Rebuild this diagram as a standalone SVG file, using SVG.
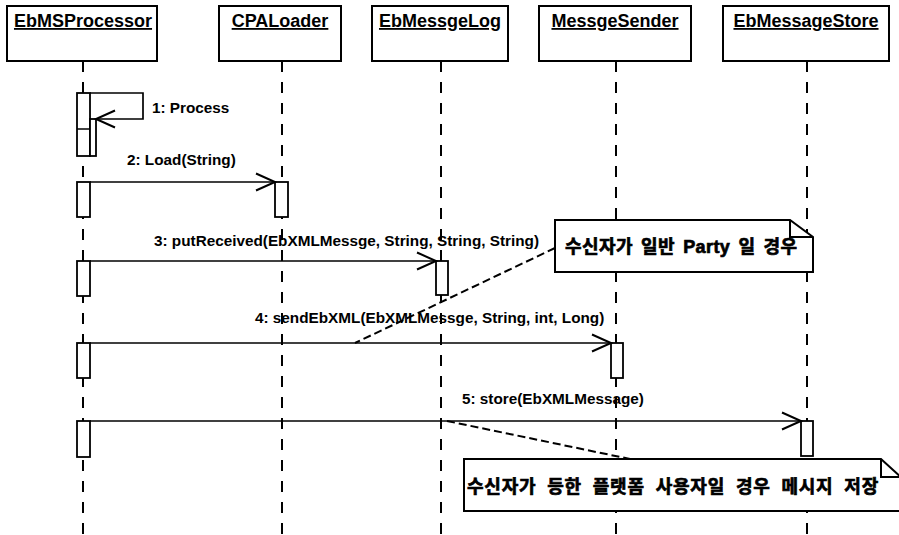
<svg xmlns="http://www.w3.org/2000/svg" width="899" height="535" viewBox="0 0 899 535">
  <style>
    .head { fill: #fff; stroke: #000; stroke-width: 2; }
    .life { stroke: #000; stroke-width: 2; stroke-dasharray: 11 10; fill: none; }
    .act { fill: #fff; stroke: #000; stroke-width: 1.8; }
    .name { font-family: "Liberation Sans", Arial, sans-serif; font-weight: bold; font-size: 18px; text-anchor: middle; text-decoration: underline; fill: #000; }
    .msg { fill: none; stroke: #000; stroke-width: 1.7; }
    .label { font-family: "Liberation Sans", Arial, sans-serif; font-weight: bold; font-size: 15.3px; fill: #000; }
    .note { fill: #fff; stroke: #000; stroke-width: 2; stroke-linejoin: miter; }
    .fold { fill: none; stroke: #000; stroke-width: 2; }
    .notetext { font-family: "Liberation Sans", "Noto Sans CJK KR", sans-serif; font-weight: bold; font-size: 18px; fill: #000; stroke: #000; stroke-width: 0.7; }
    .anchor { fill: none; stroke: #000; stroke-width: 2; stroke-dasharray: 8 4; }
  </style>
  <defs>
    <marker id="open-arrow" markerUnits="userSpaceOnUse" markerWidth="24" markerHeight="22" refX="20" refY="10" orient="auto">
      <path d="M1,1.5 L20,10 L1,18.5" fill="none" stroke="#000" stroke-width="2"/>
    </marker>
  </defs>

  <rect width="899" height="535" fill="#fff"/>

  <!-- EbMSProcessor -->
  <g id="ebms-processor">
    <line class="life" x1="83" y1="61" x2="83" y2="535"/>
    <rect class="head" x="7" y="6" width="150" height="55"/>
    <text class="name" x="83" y="27">EbMSProcessor</text>
    <rect class="act" x="77" y="93" width="13" height="63"/>
    <line x1="77" y1="129" x2="90" y2="129" stroke="#000" stroke-width="1.5"/>
    <rect class="act" x="90" y="119" width="6" height="37"/>
    <rect class="act" x="77" y="182" width="13" height="35"/>
    <rect class="act" x="77" y="261" width="13" height="35"/>
    <rect class="act" x="77" y="343" width="13" height="35"/>
    <rect class="act" x="77" y="421" width="13" height="36"/>
  </g>

  <!-- CPALoader -->
  <g id="cpa-loader">
    <line class="life" x1="282" y1="61" x2="282" y2="535"/>
    <rect class="head" x="219" y="6" width="122" height="55"/>
    <text class="name" x="280" y="27">CPALoader</text>
    <rect class="act" x="275" y="182" width="13" height="35"/>
  </g>

  <!-- EbMessgeLog -->
  <g id="eb-messge-log">
    <line class="life" x1="441" y1="61" x2="441" y2="535"/>
    <rect class="head" x="372" y="6" width="136" height="55"/>
    <text class="name" x="440" y="27">EbMessgeLog</text>
    <rect class="act" x="436" y="261" width="12" height="34"/>
  </g>

  <!-- MessgeSender -->
  <g id="messge-sender">
    <line class="life" x1="616" y1="61" x2="616" y2="535"/>
    <rect class="head" x="539" y="6" width="152" height="55"/>
    <text class="name" x="615" y="27">MessgeSender</text>
    <rect class="act" x="611" y="343" width="12" height="35"/>
  </g>

  <!-- EbMessageStore -->
  <g id="eb-message-store">
    <line class="life" x1="807" y1="61" x2="807" y2="535"/>
    <rect class="head" x="723" y="6" width="166" height="55"/>
    <text class="name" x="806" y="27">EbMessageStore</text>
    <rect class="act" x="801" y="421" width="12" height="35"/>
  </g>

  <!-- Note: ordinary party receiver -->
  <g id="note-party">
    <path class="note" d="M555,220 H790 L813,237 V272 H555 Z"/>
    <path class="fold" d="M790,220 V237 H813"/>
    <text class="notetext" x="565" y="253" letter-spacing="0.4" word-spacing="2.8">수신자가 일반 Party 일 경우</text>
  </g>

  <!-- Note: same platform receiver -->
  <g id="note-store">
    <path class="note" d="M464,459 H881 L902,478 V511 H464 Z"/>
    <path class="fold" d="M881,459 V477 H900"/>
    <text class="notetext" x="467" y="493" letter-spacing="0.8" word-spacing="5">수신자가 등한 플랫폼 사용자일 경우 메시지 저장</text>
  </g>

  <!-- Messages and note anchors -->
  <g id="connectors">
    <path class="msg" d="M90,93 H143 V119 H96" marker-end="url(#open-arrow)"/>
    <text class="label" x="152" y="113">1: Process</text>

    <line class="msg" x1="90" y1="182" x2="275" y2="182" marker-end="url(#open-arrow)"/>
    <text class="label" x="127" y="165">2: Load(String)</text>

    <line class="msg" x1="90" y1="261" x2="436" y2="261" marker-end="url(#open-arrow)"/>
    <text class="label" x="154" y="246">3: putReceived(EbXMLMessge, String, String, String)</text>

    <line class="msg" x1="90" y1="343" x2="611" y2="343" marker-end="url(#open-arrow)"/>
    <text class="label" x="255" y="323">4: sendEbXML(EbXMLMessge, String, int, Long)</text>

    <line class="msg" x1="90" y1="421" x2="801" y2="421" marker-end="url(#open-arrow)"/>
    <text class="label" x="462" y="404">5: store(EbXMLMessage)</text>

    <line class="anchor" x1="555" y1="248" x2="355" y2="343"/>
    <line class="anchor" x1="447" y1="421" x2="630" y2="459"/>
  </g>
</svg>
